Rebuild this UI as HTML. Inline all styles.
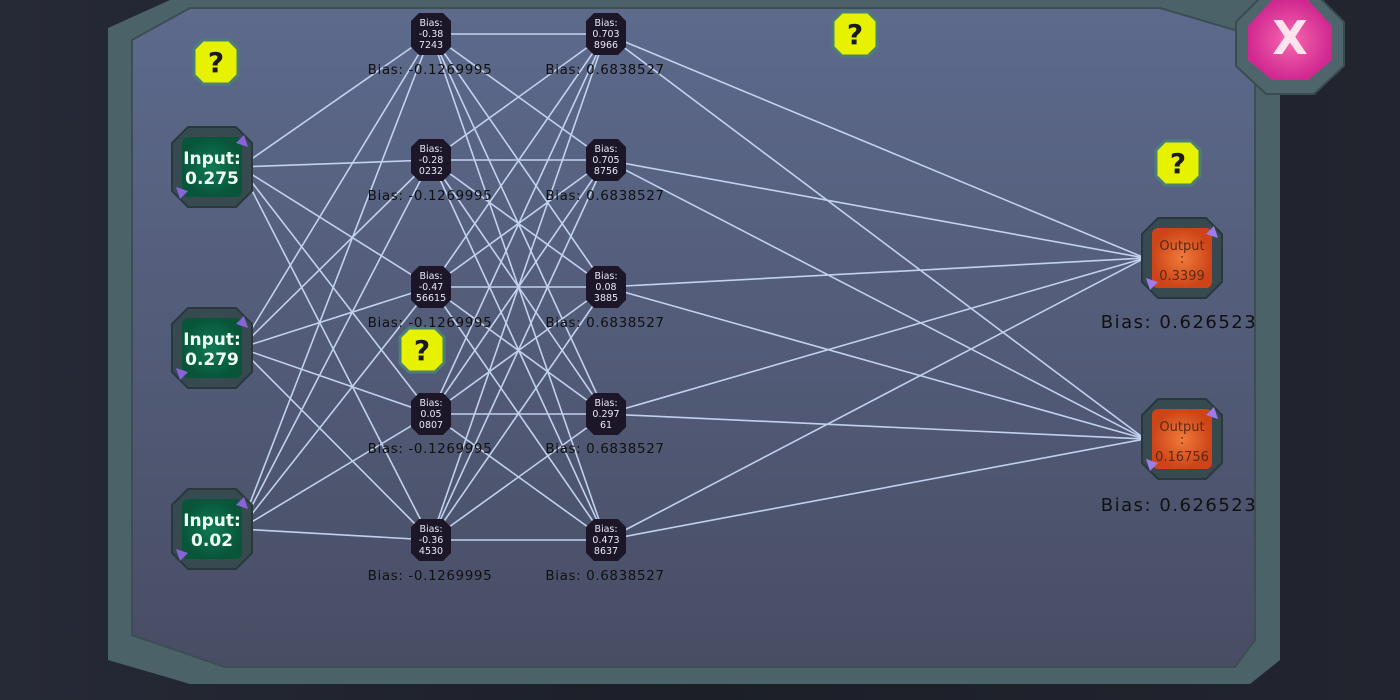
<!DOCTYPE html>
<html><head><meta charset="utf-8"><style>
html,body{margin:0;padding:0;width:1400px;height:700px;overflow:hidden;background:#1d2029;}
svg{display:block}
text{font-family:"DejaVu Sans","Liberation Sans",sans-serif;}
</style></head><body>
<svg id="s" width="1400" height="700" viewBox="0 0 1400 700" xmlns="http://www.w3.org/2000/svg">
<defs>
<linearGradient id="bg" x1="0" y1="0" x2="1" y2="0"><stop offset="0" stop-color="#262a36"/><stop offset="0.5" stop-color="#1c1f28"/><stop offset="1" stop-color="#22252f"/></linearGradient>
<linearGradient id="pn" x1="0" y1="0" x2="0" y2="1"><stop offset="0" stop-color="#5d6a8c"/><stop offset="1" stop-color="#484d64"/></linearGradient>
<radialGradient id="gr"><stop offset="0" stop-color="#0f7a55"/><stop offset="1" stop-color="#08553a"/></radialGradient>
<radialGradient id="or"><stop offset="0" stop-color="#f07a3a"/><stop offset="1" stop-color="#cc4418"/></radialGradient>
<radialGradient id="pk"><stop offset="0" stop-color="#f868b0"/><stop offset="1" stop-color="#d02890"/></radialGradient>
</defs>
<rect width="1400" height="700" fill="url(#bg)"/>
<polygon points="108,28 170,0 1280,0 1280,660 1250,684 190,684 108,660" fill="#4b6268"/>
<polygon points="132,40 190,8 1160,8 1255,36 1255,640 1235,667 225,667 132,635" fill="url(#pn)" stroke="#3c4e54" stroke-width="2"/>
<g id="lines" stroke="#c8d8f4" stroke-width="1.6" opacity="0.95"></g>
<g font-weight="bold" font-size="28" fill="#1a1a1a" text-anchor="middle">
<g transform="translate(216,62)"><polygon points="-13,-22 13,-22 22,-13 22,13 13,22 -13,22 -22,13 -22,-13" fill="#e6f200" stroke="#4d7e7a" stroke-width="3"/><text y="10">?</text></g>
<g transform="translate(855,34)"><polygon points="-13,-22 13,-22 22,-13 22,13 13,22 -13,22 -22,13 -22,-13" fill="#e6f200" stroke="#4d7e7a" stroke-width="3"/><text y="10">?</text></g>
<g transform="translate(1178,163)"><polygon points="-13,-22 13,-22 22,-13 22,13 13,22 -13,22 -22,13 -22,-13" fill="#e6f200" stroke="#4d7e7a" stroke-width="3"/><text y="10">?</text></g>
<g transform="translate(422,350)"><polygon points="-13,-22 13,-22 22,-13 22,13 13,22 -13,22 -22,13 -22,-13" fill="#e6f200" stroke="#4d7e7a" stroke-width="3"/><text y="10">?</text></g>
</g>
<g transform="translate(1290,44)">
<polygon points="-24,-52 24,-52 54,-22 54,22 24,50 -24,50 -54,22 -54,-22" fill="#4e666b" stroke="#3a4c50" stroke-width="2"/>
<polygon points="-18,-44 18,-44 42,-18 42,16 18,36 -18,36 -42,16 -42,-18" fill="url(#pk)"/>
<text y="10" text-anchor="middle" font-size="46" font-weight="bold" fill="#ffe4ee">X</text>
</g>
<g text-anchor="middle" font-size="17" font-weight="bold" fill="#f0fff6">
<g transform="translate(212,167)"><polygon points="-24,-40 24,-40 40,-24 40,24 24,40 -24,40 -40,24 -40,-24" fill="#364a4f" stroke="#28383c" stroke-width="2"/><rect x="-30" y="-30" width="60" height="60" rx="6" fill="url(#gr)"/><text y="-3">Input:</text><text y="17">0.275</text><polygon points="-36,20 -24,24 -32,32" fill="#8a62d8"/><polygon points="36,-20 24,-24 32,-32" fill="#8a62d8"/></g>
<g transform="translate(212,348)"><polygon points="-24,-40 24,-40 40,-24 40,24 24,40 -24,40 -40,24 -40,-24" fill="#364a4f" stroke="#28383c" stroke-width="2"/><rect x="-30" y="-30" width="60" height="60" rx="6" fill="url(#gr)"/><text y="-3">Input:</text><text y="17">0.279</text><polygon points="-36,20 -24,24 -32,32" fill="#8a62d8"/><polygon points="36,-20 24,-24 32,-32" fill="#8a62d8"/></g>
<g transform="translate(212,529)"><polygon points="-24,-40 24,-40 40,-24 40,24 24,40 -24,40 -40,24 -40,-24" fill="#364a4f" stroke="#28383c" stroke-width="2"/><rect x="-30" y="-30" width="60" height="60" rx="6" fill="url(#gr)"/><text y="-3">Input:</text><text y="17">0.02</text><polygon points="-36,20 -24,24 -32,32" fill="#8a62d8"/><polygon points="36,-20 24,-24 32,-32" fill="#8a62d8"/></g>
</g>
<g text-anchor="middle" font-size="13" fill="#5a2a18">
<g transform="translate(1182,258)"><polygon points="-24,-40 24,-40 40,-24 40,24 24,40 -24,40 -40,24 -40,-24" fill="#364a4f" stroke="#28383c" stroke-width="2"/><rect x="-30" y="-30" width="60" height="60" rx="6" fill="url(#or)"/><text y="-8">Output</text><text y="5">:</text><text y="22">0.3399</text><polygon points="-36,20 -24,24 -32,32" fill="#a07ae8"/><polygon points="36,-20 24,-24 32,-32" fill="#a07ae8"/></g>
<g transform="translate(1182,439)"><polygon points="-24,-40 24,-40 40,-24 40,24 24,40 -24,40 -40,24 -40,-24" fill="#364a4f" stroke="#28383c" stroke-width="2"/><rect x="-30" y="-30" width="60" height="60" rx="6" fill="url(#or)"/><text y="-8">Output</text><text y="5">:</text><text y="22">0.16756</text><polygon points="-36,20 -24,24 -32,32" fill="#a07ae8"/><polygon points="36,-20 24,-24 32,-32" fill="#a07ae8"/></g>
</g>
<g text-anchor="middle" font-size="18" fill="#111" letter-spacing="1.5">
<text x="1179" y="328">Bias: 0.626523</text>
<text x="1179" y="511">Bias: 0.626523</text>
</g>
<g text-anchor="middle" font-size="9.5" fill="#e8e8f4">
<g transform="translate(431,34)"><polygon points="-12,-21 12,-21 20,-13 20,13 12,21 -12,21 -20,13 -20,-13" fill="#1c1628"/><text y="-8">Bias:</text><text y="3">-0.38</text><text y="14">7243</text></g>
<g transform="translate(431,160)"><polygon points="-12,-21 12,-21 20,-13 20,13 12,21 -12,21 -20,13 -20,-13" fill="#1c1628"/><text y="-8">Bias:</text><text y="3">-0.28</text><text y="14">0232</text></g>
<g transform="translate(431,287)"><polygon points="-12,-21 12,-21 20,-13 20,13 12,21 -12,21 -20,13 -20,-13" fill="#1c1628"/><text y="-8">Bias:</text><text y="3">-0.47</text><text y="14">56615</text></g>
<g transform="translate(431,414)"><polygon points="-12,-21 12,-21 20,-13 20,13 12,21 -12,21 -20,13 -20,-13" fill="#1c1628"/><text y="-8">Bias:</text><text y="3">0.05</text><text y="14">0807</text></g>
<g transform="translate(431,540)"><polygon points="-12,-21 12,-21 20,-13 20,13 12,21 -12,21 -20,13 -20,-13" fill="#1c1628"/><text y="-8">Bias:</text><text y="3">-0.36</text><text y="14">4530</text></g>
<g transform="translate(606,34)"><polygon points="-12,-21 12,-21 20,-13 20,13 12,21 -12,21 -20,13 -20,-13" fill="#1c1628"/><text y="-8">Bias:</text><text y="3">0.703</text><text y="14">8966</text></g>
<g transform="translate(606,160)"><polygon points="-12,-21 12,-21 20,-13 20,13 12,21 -12,21 -20,13 -20,-13" fill="#1c1628"/><text y="-8">Bias:</text><text y="3">0.705</text><text y="14">8756</text></g>
<g transform="translate(606,287)"><polygon points="-12,-21 12,-21 20,-13 20,13 12,21 -12,21 -20,13 -20,-13" fill="#1c1628"/><text y="-8">Bias:</text><text y="3">0.08</text><text y="14">3885</text></g>
<g transform="translate(606,414)"><polygon points="-12,-21 12,-21 20,-13 20,13 12,21 -12,21 -20,13 -20,-13" fill="#1c1628"/><text y="-8">Bias:</text><text y="3">0.297</text><text y="14">61</text></g>
<g transform="translate(606,540)"><polygon points="-12,-21 12,-21 20,-13 20,13 12,21 -12,21 -20,13 -20,-13" fill="#1c1628"/><text y="-8">Bias:</text><text y="3">0.473</text><text y="14">8637</text></g>
</g>
<g text-anchor="middle" font-size="13.5" fill="#111" letter-spacing="0.6">
<text x="430" y="74">Bias: -0.1269995</text><text x="605" y="74">Bias: 0.6838527</text>
<text x="430" y="200">Bias: -0.1269995</text><text x="605" y="200">Bias: 0.6838527</text>
<text x="430" y="327">Bias: -0.1269995</text><text x="605" y="327">Bias: 0.6838527</text>
<text x="430" y="453">Bias: -0.1269995</text><text x="605" y="453">Bias: 0.6838527</text>
<text x="430" y="580">Bias: -0.1269995</text><text x="605" y="580">Bias: 0.6838527</text>
</g>
</svg>
<script>
var g=document.getElementById('lines'),ns='http://www.w3.org/2000/svg';
var I=[167,348,529],H=[34,160,287,414,540],O=[258,439];
function L(a,b,c,d){var l=document.createElementNS(ns,'line');l.setAttribute('x1',a);l.setAttribute('y1',b);l.setAttribute('x2',c);l.setAttribute('y2',d);g.appendChild(l);}
I.forEach(function(y){H.forEach(function(h){L(240,y,431,h);});});
H.forEach(function(a){H.forEach(function(b){L(431,a,606,b);});});
H.forEach(function(a){O.forEach(function(b){L(606,a,1145,b);});});
</script>
</body></html>
